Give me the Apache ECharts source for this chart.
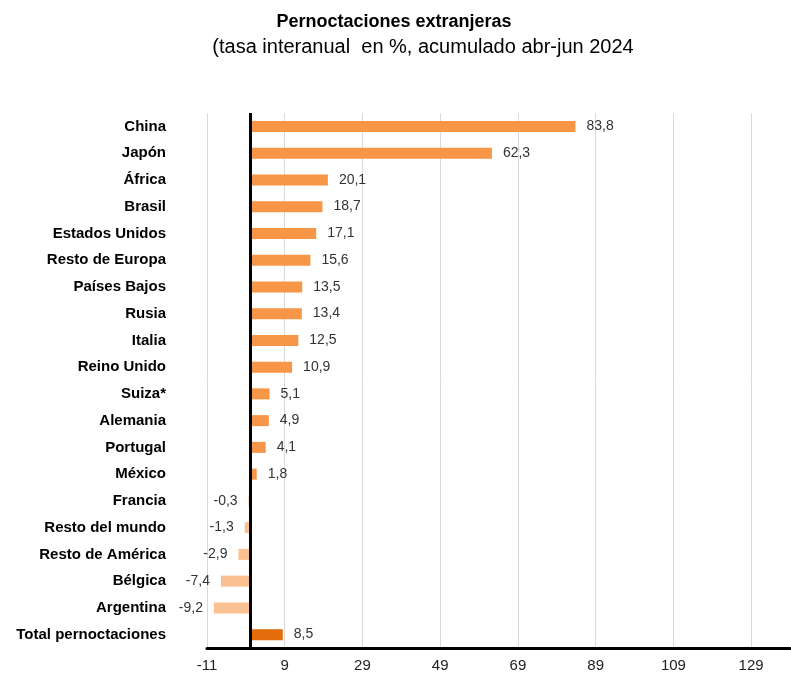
<!DOCTYPE html>
<html>
<head>
<meta charset="utf-8">
<script src="https://cdn.jsdelivr.net/npm/echarts@6/dist/echarts.min.js"></script>
<style>
html,body{margin:0;padding:0;background:#fff;}
#chart{width:791px;height:674px;}
</style>
</head>
<body>
<div id="chart"></div>
<script>
var categories = ["China","Japón","África","Brasil","Estados Unidos","Resto de Europa","Países Bajos","Rusia","Italia","Reino Unido","Suiza*","Alemania","Portugal","México","Francia","Resto del mundo","Resto de América","Bélgica","Argentina","Total pernoctaciones"];
var values = [83.8,62.3,20.1,18.7,17.1,15.6,13.5,13.4,12.5,10.9,5.1,4.9,4.1,1.8,-0.3,-1.3,-2.9,-7.4,-9.2,8.5];
var totalName = "Total pernoctaciones";
var axisMin = -11, axisMax = 139, axisStep = 20;

var chart = echarts.init(document.getElementById('chart'));
var fmt = function(v){ return String(v.toFixed(1)).replace('.', ','); };
var data = values.map(function(v, i){
  var isTotal = categories[i] === totalName;
  var color = isTotal ? '#E46C0A' : (v < 0 ? '#FAC090' : '#F79646');
  return {
    value: v,
    itemStyle: {color: color},
    label: {position: v < 0 ? 'left' : 'right'}
  };
});
chart.setOption({
  animation: false,
  title: [{
    text: 'Pernoctaciones extranjeras',
    left: 389, textAlign: 'center', top: 8,
    textStyle: {fontFamily: 'Liberation Sans', fontSize: 18, fontWeight: 'bold', color: '#000'}
  }, {
    text: '(tasa interanual  en %, acumulado abr-jun 2024',
    left: 418, textAlign: 'center', top: 32,
    textStyle: {fontFamily: 'Liberation Sans', fontSize: 20, fontWeight: 'normal', color: '#000'}
  }],
  grid: {left: 207, right: 1, top: 113, bottom: 26, containLabel: false},
  xAxis: {
    type: 'value', min: axisMin, max: axisMax, interval: axisStep,
    axisLine: {show: true, onZero: false, lineStyle: {color: '#000', width: 3}},
    axisTick: {show: false},
    splitLine: {show: true, showMaxLine: false, lineStyle: {color: '#D9D9D9', width: 1}},
    axisLabel: {
      fontFamily: 'Liberation Sans', fontSize: 15, color: '#222', margin: 10,
      showMaxLabel: false,
      formatter: function(v){ return v >= axisMax ? '' : String(v); }
    }
  },
  yAxis: {
    type: 'category', data: categories, inverse: true,
    axisLine: {show: false, onZero: false},
    axisTick: {show: false},
    splitLine: {show: false},
    axisLabel: {fontFamily: 'Liberation Sans', fontSize: 15, fontWeight: 'bold', color: '#000', margin: 41}
  },
  series: [{
    type: 'bar', data: data, barWidth: 11,
    label: {
      show: true, distance: 11,
      fontFamily: 'Liberation Sans', fontSize: 14, color: '#333',
      formatter: function(p){ return fmt(p.value); }
    },
    markLine: {
      silent: true, symbol: 'none',
      label: {show: false},
      lineStyle: {color: '#000', width: 3, type: 'solid'},
      data: [{xAxis: 0}]
    }
  }]
});
</script>
</body>
</html>
